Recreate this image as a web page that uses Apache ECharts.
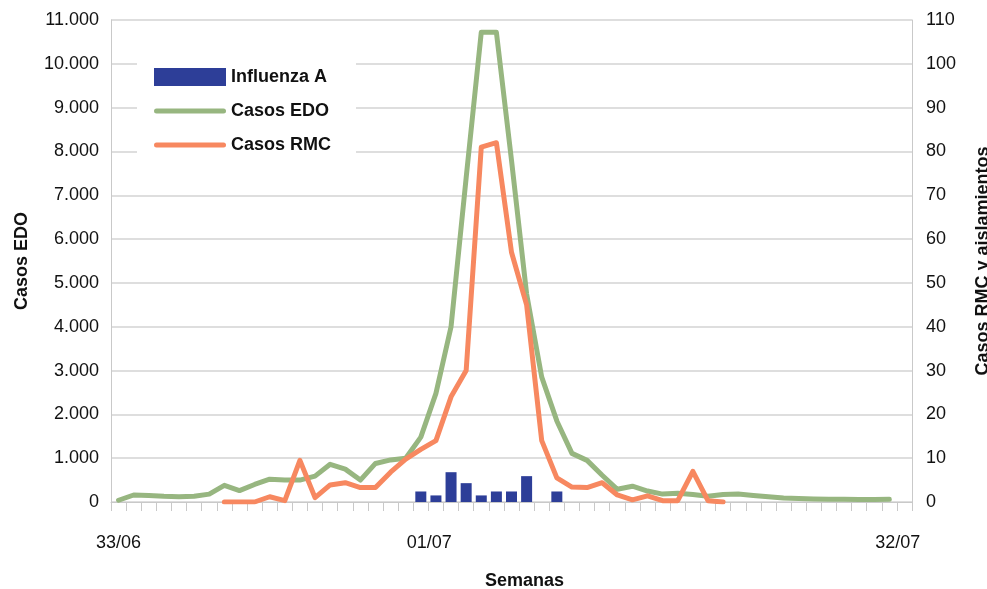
<!DOCTYPE html>
<html>
<head>
<meta charset="utf-8">
<script src="https://cdn.jsdelivr.net/npm/echarts@6/dist/echarts.min.js"></script>
<style>
  html, body { margin: 0; padding: 0; background: #ffffff; }
  #chart { width: 987px; height: 589px; }
</style>
</head>
<body>
<div id="chart"></div>
<script>
// Epidemiological weeks (33/06 .. 33/07)
const weeks = [
  '33/06','34/06','35/06','36/06','37/06','38/06','39/06','40/06','41/06','42/06',
  '43/06','44/06','45/06','46/06','47/06','48/06','49/06','50/06','51/06','52/06',
  '01/07','02/07','03/07','04/07','05/07','06/07','07/07','08/07','09/07','10/07',
  '11/07','12/07','13/07','14/07','15/07','16/07','17/07','18/07','19/07','20/07',
  '21/07','22/07','23/07','24/07','25/07','26/07','27/07','28/07','29/07','30/07',
  '31/07','32/07','33/07'
];

// Week labels printed under the axis
const labelledWeeks = ['33/06', '01/07', '32/07'];

// Notifiable disease cases (EDO), left axis
const casosEDO = [
  40, 160, 150, 130, 120, 130, 180, 380, 260, 400,
  520, 500, 500, 590, 860, 750, 500, 880, 960, 1000,
  1480, 2480, 4000, 7400, 10720, 10720, 7800, 4750, 2850, 1850,
  1110, 950, 610, 290, 360, 250, 180, 200, 170, 130,
  170, 180, 150, 120, 90, 80, 70, 65, 60, 55,
  55, 60, null
];

// Sentinel network cases (RMC), right axis
const casosRMC = [
  null, null, null, null, null, null, null, 0, 0, 0,
  1.2, 0.3, 9.5, 1, 3.9, 4.4, 3.3, 3.3, 6.8, 9.8,
  12, 14, 24, 30, 81, 82, 57, 45, 14, 5.5,
  3.4, 3.3, 4.4, 1.6, 0.5, 1.4, 0.3, 0.3, 7, 0.3,
  0, null, null, null, null, null, null, null, null, null,
  null, null, null
];

// Influenza A isolates, right axis
const influenzaA = [
  null, null, null, null, null, null, null, null, null, null,
  null, null, null, null, null, null, null, null, null, null,
  2.4, 1.5, 6.8, 4.3, 1.5, 2.4, 2.4, 5.9, null, 2.4,
  null, null, null, null, null, null, null, null, null, null,
  null, null, null, null, null, null, null, null, null, null,
  null, null, null
];

const FONT = '"Liberation Sans", Arial, Helvetica, sans-serif';
const GREEN = '#97b680';
const ORANGE = '#f78860';
const NAVY = '#2d3e98';
const AXIS_GREY = '#c9c9c9';
const TEXT = '#111111';

// Thin rounded bar inside a 72x18 box, used as legend icon for the lines
const lineIcon = 'path://M0,0M72,18M2.5,6.5H69.5A2.5,2.5,0,0,1,69.5,11.5H2.5A2.5,2.5,0,0,1,2.5,6.5Z';

function thousands(v) {
  if (v < 1000) return String(v);
  return Math.floor(v / 1000) + '.' + String(v % 1000).padStart(3, '0');
}

const chart = echarts.init(document.getElementById('chart'), null, { renderer: 'canvas' });

chart.setOption({
  animation: false,
  backgroundColor: '#ffffff',
  textStyle: { fontFamily: FONT },
  grid: { left: 111, right: 75, top: 20, bottom: 87, containLabel: false, outerBoundsMode: 'none' },
  legend: {
    orient: 'vertical',
    left: 137,
    top: 55,
    padding: [13, 25, 14, 17],
    backgroundColor: '#ffffff',
    itemWidth: 72,
    itemHeight: 18,
    itemGap: 16,
    selectedMode: false,
    itemStyle: { borderWidth: 0 },
    textStyle: { fontFamily: FONT, fontSize: 18, fontWeight: 'bold', color: TEXT, padding: [0, 0, 0, 0] },
    data: [
      { name: 'Influenza A', icon: 'rect', itemStyle: { color: NAVY, borderWidth: 0 } },
      { name: 'Casos EDO', icon: lineIcon, itemStyle: { color: GREEN, borderWidth: 0 } },
      { name: 'Casos RMC', icon: lineIcon, itemStyle: { color: ORANGE, borderWidth: 0 } }
    ]
  },
  xAxis: {
    type: 'category',
    data: weeks,
    boundaryGap: true,
    axisLine: { show: true, lineStyle: { color: AXIS_GREY, width: 1 } },
    axisTick: { show: true, interval: 0, length: 9, lineStyle: { color: AXIS_GREY, width: 1 } },
    splitLine: { show: false },
    axisLabel: {
      interval: function (i, v) { return labelledWeeks.indexOf(v) !== -1; },
      margin: 32,
      color: TEXT,
      fontSize: 18,
      lineHeight: 18,
      fontFamily: FONT,
      formatter: function (v, i) { return i === 0 ? v : '{s|' + v + '}'; },
      rich: { s: { padding: [0, 0, 0, 17], fontSize: 18, lineHeight: 18, color: TEXT, fontFamily: FONT } }
    },
    name: 'Semanas',
    nameLocation: 'middle',
    nameGap: 70,
    nameTextStyle: { fontFamily: FONT, fontSize: 18, fontWeight: 'bold', color: TEXT, padding: [0, 0, 0, 26] }
  },
  yAxis: [
    {
      type: 'value',
      position: 'left',
      min: 0,
      max: 11000,
      interval: 1000,
      axisLine: { show: true, lineStyle: { color: AXIS_GREY, width: 1 } },
      axisTick: { show: false },
      splitLine: { show: true, lineStyle: { color: '#d3d3d3', width: 1.6 } },
      axisLabel: { margin: 12, color: TEXT, fontSize: 18, fontFamily: FONT, formatter: thousands },
      name: 'Casos EDO',
      nameLocation: 'middle',
      nameRotate: 90,
      nameGap: 80,
      nameTextStyle: { fontFamily: FONT, fontSize: 18, fontWeight: 'bold', color: TEXT }
    },
    {
      type: 'value',
      position: 'right',
      min: 0,
      max: 110,
      interval: 10,
      axisLine: { show: true, lineStyle: { color: AXIS_GREY, width: 1 } },
      axisTick: { show: false },
      splitLine: { show: false },
      axisLabel: { margin: 14, color: TEXT, fontSize: 18, fontFamily: FONT },
      name: 'Casos RMC y aislamientos',
      nameLocation: 'middle',
      nameRotate: 90,
      nameGap: 62,
      nameTextStyle: { fontFamily: FONT, fontSize: 18, fontWeight: 'bold', color: TEXT }
    }
  ],
  series: [
    {
      name: 'Influenza A',
      type: 'bar',
      yAxisIndex: 1,
      data: influenzaA,
      barWidth: 11,
      itemStyle: { color: NAVY }
    },
    {
      name: 'Casos EDO',
      type: 'line',
      yAxisIndex: 0,
      data: casosEDO,
      symbol: 'none',
      connectNulls: false,
      lineStyle: { color: GREEN, width: 5, cap: 'round', join: 'round' },
      itemStyle: { color: GREEN }
    },
    {
      name: 'Casos RMC',
      type: 'line',
      yAxisIndex: 1,
      data: casosRMC,
      symbol: 'none',
      connectNulls: false,
      lineStyle: { color: ORANGE, width: 5, cap: 'round', join: 'round' },
      itemStyle: { color: ORANGE }
    }
  ]
});
</script>
</body>
</html>
